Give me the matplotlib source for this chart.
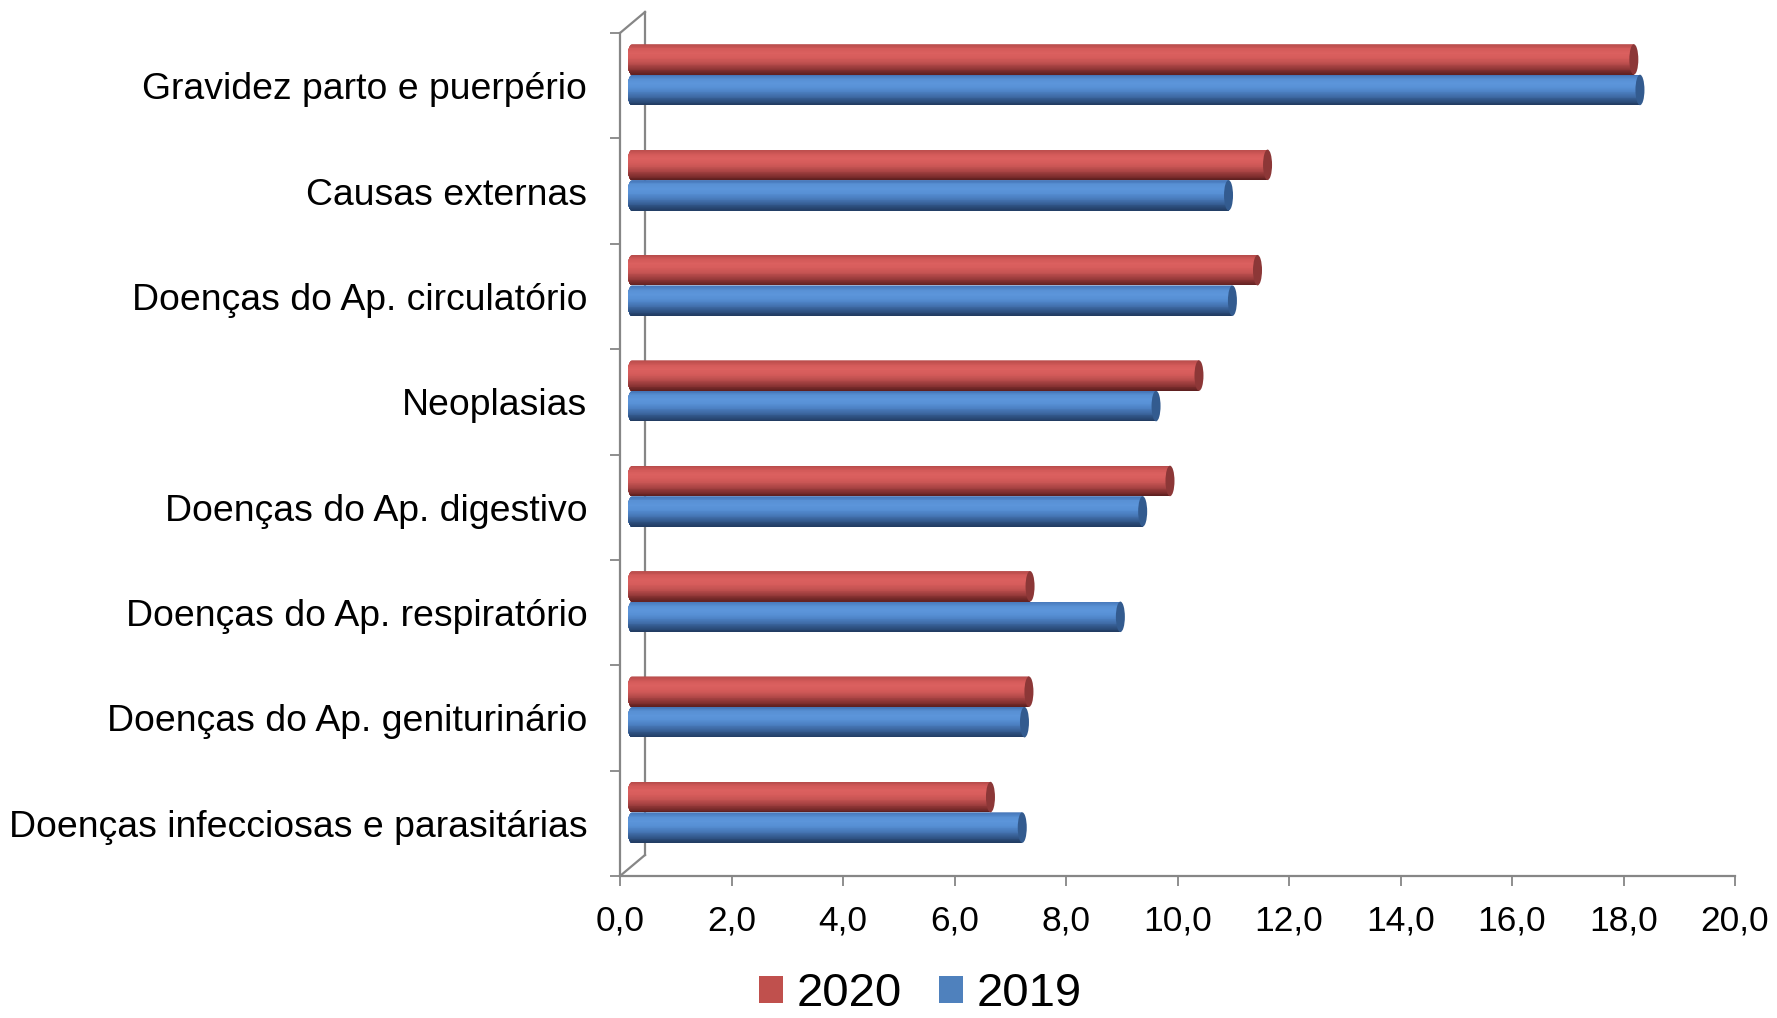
import numpy as np
import matplotlib
matplotlib.use("Agg")
import matplotlib.pyplot as plt
from matplotlib import transforms
from matplotlib.patches import Ellipse, PathPatch, Rectangle
from matplotlib.path import Path
from matplotlib.colors import LinearSegmentedColormap
from matplotlib.lines import Line2D

plt.rcParams['font.family'] = ['Liberation Sans', 'DejaVu Sans']

# ---------------- data ----------------
categories = [
    "Gravidez parto e puerpério",
    "Causas externas",
    "Doenças do Ap. circulatório",
    "Neoplasias",
    "Doenças do Ap. digestivo",
    "Doenças do Ap. respiratório",
    "Doenças do Ap. geniturinário",
    "Doenças infecciosas e parasitárias",
]
values_2020 = [17.97, 11.4, 11.22, 10.17, 9.65, 7.14, 7.12, 6.43]
values_2019 = [18.08, 10.7, 10.77, 9.4, 9.16, 8.76, 7.04, 7.0]
series_labels = ["2020", "2019"]
xtick_values = [0, 2, 4, 6, 8, 10, 12, 14, 16, 18, 20]
xtick_labels = ["0,0", "2,0", "4,0", "6,0", "8,0", "10,0", "12,0", "14,0", "16,0", "18,0", "20,0"]

# ---------------- style ----------------
W, H, DPI = 1777, 1018, 100
AX_L, AX_R, AX_T, AX_B = 620, 1735, 33, 876   # pixel box of the front frame
axis_gray = "#868686"
red_grad = ["#b84c4b", "#d35a59", "#db605f", "#d65c5b", "#c65453", "#a94444", "#863232", "#5f2020"]
blue_grad = ["#4676b8", "#5890d4", "#5c95da", "#5790d5", "#4c80c2", "#3f6ba6", "#2f5283", "#223c62"]
red_cap = "#8c3737"
blue_cap = "#335b8f"
red_leg = "#c0504d"
blue_leg = "#4f81bd"

fig = plt.figure(figsize=(W / DPI, H / DPI), dpi=DPI)
ax = fig.add_axes([AX_L / W, (H - AX_B) / H, (AX_R - AX_L) / W, (AX_B - AX_T) / H])
ax.set_xlim(0, 20)
ax.set_ylim(0, len(categories))

ax_w_px = AX_R - AX_L
ax_h_px = AX_B - AX_T
cat_px = ax_h_px / len(categories)
unit_px = ax_w_px / 20.0

# depth offsets (3D look)
bar_off = transforms.ScaledTranslation(12 / DPI, 11 / DPI, fig.dpi_scale_trans)
wall_off = transforms.ScaledTranslation(25 / DPI, 21 / DPI, fig.dpi_scale_trans)
trans_bar = ax.transData + bar_off

# back wall lines
ax.add_line(Line2D([0, 0], [0, 1], transform=ax.transAxes + wall_off,
                   color=axis_gray, lw=1.6, zorder=0.5, clip_on=False))
dxa = 25 / ax_w_px
dya = 21 / ax_h_px
ax.add_line(Line2D([0, dxa], [1, 1 + dya], transform=ax.transAxes,
                   color=axis_gray, lw=1.6, zorder=0.5, clip_on=False))
ax.add_line(Line2D([0, dxa], [0, dya], transform=ax.transAxes,
                   color=axis_gray, lw=1.6, zorder=0.5, clip_on=False))

# cylinders
bar_h = 30.5 / cat_px
cap_w = 9.0 / unit_px
red_cmap = LinearSegmentedColormap.from_list("r", red_grad)
blue_cmap = LinearSegmentedColormap.from_list("b", blue_grad)


def cylinder(value, y0, h, cmap, cap_color, z):
    a = cap_w / 2
    b = h / 2
    yc = y0 + b
    th = np.linspace(np.pi / 2, 3 * np.pi / 2, 40)
    verts = [(a * np.cos(t), yc + b * np.sin(t)) for t in th]
    verts += [(value, y0), (value, y0 + h), verts[0]]
    codes = [Path.MOVETO] + [Path.LINETO] * (len(verts) - 2) + [Path.CLOSEPOLY]
    clip = PathPatch(Path(verts, codes), transform=trans_bar)
    n = 36
    for i in range(n):
        hh = h * (n - i) / n
        bc = ax.barh(y0, value + a, height=hh, left=-a, align="edge",
                     color=cmap(i / (n - 1)), linewidth=0, transform=trans_bar,
                     zorder=z)
        for r in bc:
            r.set_clip_path(clip)
    ax.add_patch(Ellipse((value, yc), width=2 * a, height=h, transform=trans_bar,
                         facecolor=cap_color, edgecolor="none", zorder=z + 0.1))


n_cat = len(categories)
for i in range(n_cat):
    yc = n_cat - 0.5 - i
    cylinder(values_2019[i], yc - bar_h, bar_h, blue_cmap, blue_cap, 2)
    cylinder(values_2020[i], yc, bar_h, red_cmap, red_cap, 2.2)

# axes frame
for s in ["top", "right"]:
    ax.spines[s].set_visible(False)
for s in ["left", "bottom"]:
    ax.spines[s].set_color(axis_gray)
    ax.spines[s].set_linewidth(1.6)
    ax.spines[s].set_zorder(3)

ax.set_xticks(xtick_values)
ax.set_xticklabels(xtick_labels, fontsize=25.5)
ax.tick_params(axis="x", length=7.2, width=1.3, color=axis_gray, pad=13)

centers = [n_cat - 0.5 - i for i in range(n_cat)]
ax.set_yticks(centers)
ax.set_yticklabels(categories, fontsize=26.9)
ax.set_yticks(list(range(n_cat + 1)), minor=True)
ax.tick_params(axis="y", which="major", length=0, pad=23.5)
ax.tick_params(axis="y", which="minor", length=7.2, width=1.3, color=axis_gray)

# legend
handles = [Rectangle((0, 0), 1, 1, facecolor=red_leg, edgecolor="none"),
           Rectangle((0, 0), 1, 1, facecolor=blue_leg, edgecolor="none")]
fig.legend(handles, series_labels, loc="center", bbox_to_anchor=(0.518, 0.0235),
           ncol=2, frameon=False, fontsize=34, handlelength=0.5, handleheight=0.5,
           handletextpad=0.3, columnspacing=0.78, borderpad=0, borderaxespad=0)

fig.savefig("out.png", dpi=DPI)
